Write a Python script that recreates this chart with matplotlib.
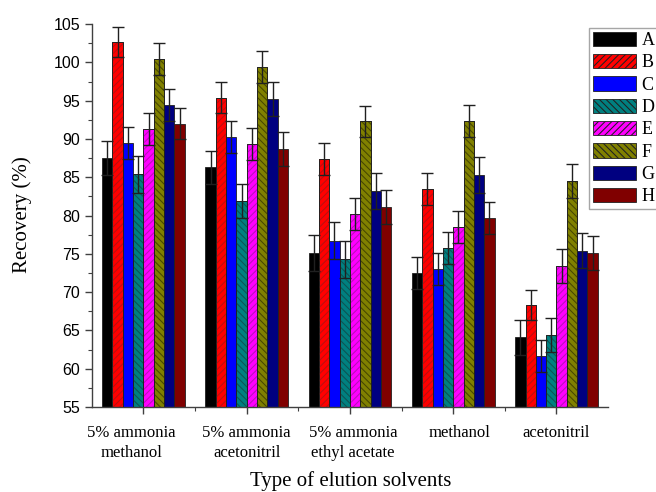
import numpy as np
import matplotlib
matplotlib.use("Agg")
import matplotlib.pyplot as plt
from matplotlib.ticker import MultipleLocator, FixedLocator

categories = ["5% ammonia\nmethanol", "5% ammonia\nacetonitril", "5% ammonia\nethyl acetate",
              "methanol", "acetonitril"]
series_names = ["A", "B", "C", "D", "E", "F", "G", "H"]

A = [87.5, 86.3, 75.1, 72.5, 64.1]
B = [102.7, 95.4, 87.4, 83.5, 68.3]
C = [89.5, 90.3, 76.7, 73.0, 61.7]
D = [85.4, 81.9, 74.3, 75.8, 64.4]
E = [91.3, 89.3, 80.2, 78.5, 73.4]
F = [100.4, 99.4, 92.3, 92.4, 84.5]
G = [94.4, 95.2, 83.2, 85.3, 75.4]
H = [92.0, 88.7, 81.1, 79.7, 75.1]

A_err = [2.2, 2.2, 2.4, 2.1, 2.3]
B_err = [2.0, 2.0, 2.1, 2.1, 2.0]
C_err = [2.1, 2.1, 2.4, 2.1, 2.1]
D_err = [2.4, 2.2, 2.4, 2.1, 2.2]
E_err = [2.1, 2.1, 2.1, 2.1, 2.2]
F_err = [2.1, 2.1, 2.0, 2.1, 2.2]
G_err = [2.1, 2.2, 2.3, 2.4, 2.3]
H_err = [2.0, 2.2, 2.2, 2.1, 2.2]

values = [A, B, C, D, E, F, G, H]
errors = [A_err, B_err, C_err, D_err, E_err, F_err, G_err, H_err]

colors = ["#000000", "#FF0000", "#0000FF", "#008080", "#FF00FF", "#808000", "#000080", "#800000"]
hatch_colors = [None, "#B81010", None, "#0E5252", "#B810B8", "#454500", None, None]
hatches = [None, "/////", None, "\\\\\\\\\\", "/////", "\\\\\\\\\\", None, None]

plt.rcParams["hatch.linewidth"] = 0.75

fig = plt.figure(figsize=(6.56, 4.92), dpi=100)
ax = fig.add_axes([0.140, 0.1728, 0.787, 0.778])

x = np.arange(1, len(categories) + 1)
w = 0.1
for j, (vals, errs) in enumerate(zip(values, errors)):
    pos = x + (j - 3.5) * w
    ax.bar(pos, vals, width=w, bottom=0, color=colors[j], edgecolor="#202020",
           linewidth=0.6, zorder=2, label=series_names[j])
    if hatches[j]:
        ax.bar(pos, vals, width=w, facecolor="none", edgecolor=hatch_colors[j],
               hatch=hatches[j], linewidth=0, zorder=2.5)
        ax.bar(pos, vals, width=w, facecolor="none", edgecolor="#202020",
               linewidth=0.6, zorder=2.6)
    ax.errorbar(pos, vals, yerr=errs, fmt="none", ecolor="#202020", elinewidth=1.0,
                capsize=4.3, capthick=1.0, zorder=3)

ax.set_xlim(0.5, 5.5)
ax.set_ylim(55, 105)
ax.yaxis.set_major_locator(MultipleLocator(5))
ax.yaxis.set_minor_locator(MultipleLocator(2.5))
ax.set_xticks(x)
ax.set_xticklabels([])
ax.xaxis.set_minor_locator(FixedLocator([1.5, 2.5, 3.5, 4.5]))
for s in ["top", "right"]:
    ax.spines[s].set_visible(False)
for s in ["left", "bottom"]:
    ax.spines[s].set_linewidth(1.0)
    ax.spines[s].set_color("#404040")
ax.tick_params(axis="both", which="major", direction="out", length=5, width=1.0, color="#404040")
ax.tick_params(axis="both", which="minor", direction="out", length=3, width=0.8, color="#404040")
for lab in ax.get_yticklabels():
    lab.set_fontfamily("Liberation Sans")
    lab.set_fontsize(11.5)

serif = "Liberation Serif"
offsets = [-0.12, 0.0, 0.03, 0.06, 0.0]
for xi, cat, off in zip(x, categories, offsets):
    ax.text(xi + off, -0.048, cat, transform=ax.get_xaxis_transform(), ha="center", va="top",
            fontfamily=serif, fontsize=12, linespacing=1.3)

fig.text(351 / 656, 1 - 481 / 492, "Type of elution solvents", ha="center", va="center",
         fontfamily=serif, fontsize=15)
fig.text(22 / 656, 1 - 215 / 492, "Recovery (%)", ha="center", va="center", rotation=90,
         fontfamily=serif, fontsize=15)

leg = ax.legend(loc="upper left", bbox_to_anchor=(589 / 656, 1 - 28 / 492),
                bbox_transform=fig.transFigure, borderaxespad=0,
                prop={"family": serif, "size": 13}, frameon=True, fancybox=False,
                handlelength=2.4, handleheight=0.85, labelspacing=0.27, handletextpad=0.3,
                borderpad=0.2)
leg.get_frame().set_edgecolor("#909090")
leg.get_frame().set_linewidth(1.0)
for j, patch in enumerate(leg.get_patches()):
    if hatches[j]:
        patch.set_hatch(hatches[j])

fig.savefig("out.png", dpi=100)
